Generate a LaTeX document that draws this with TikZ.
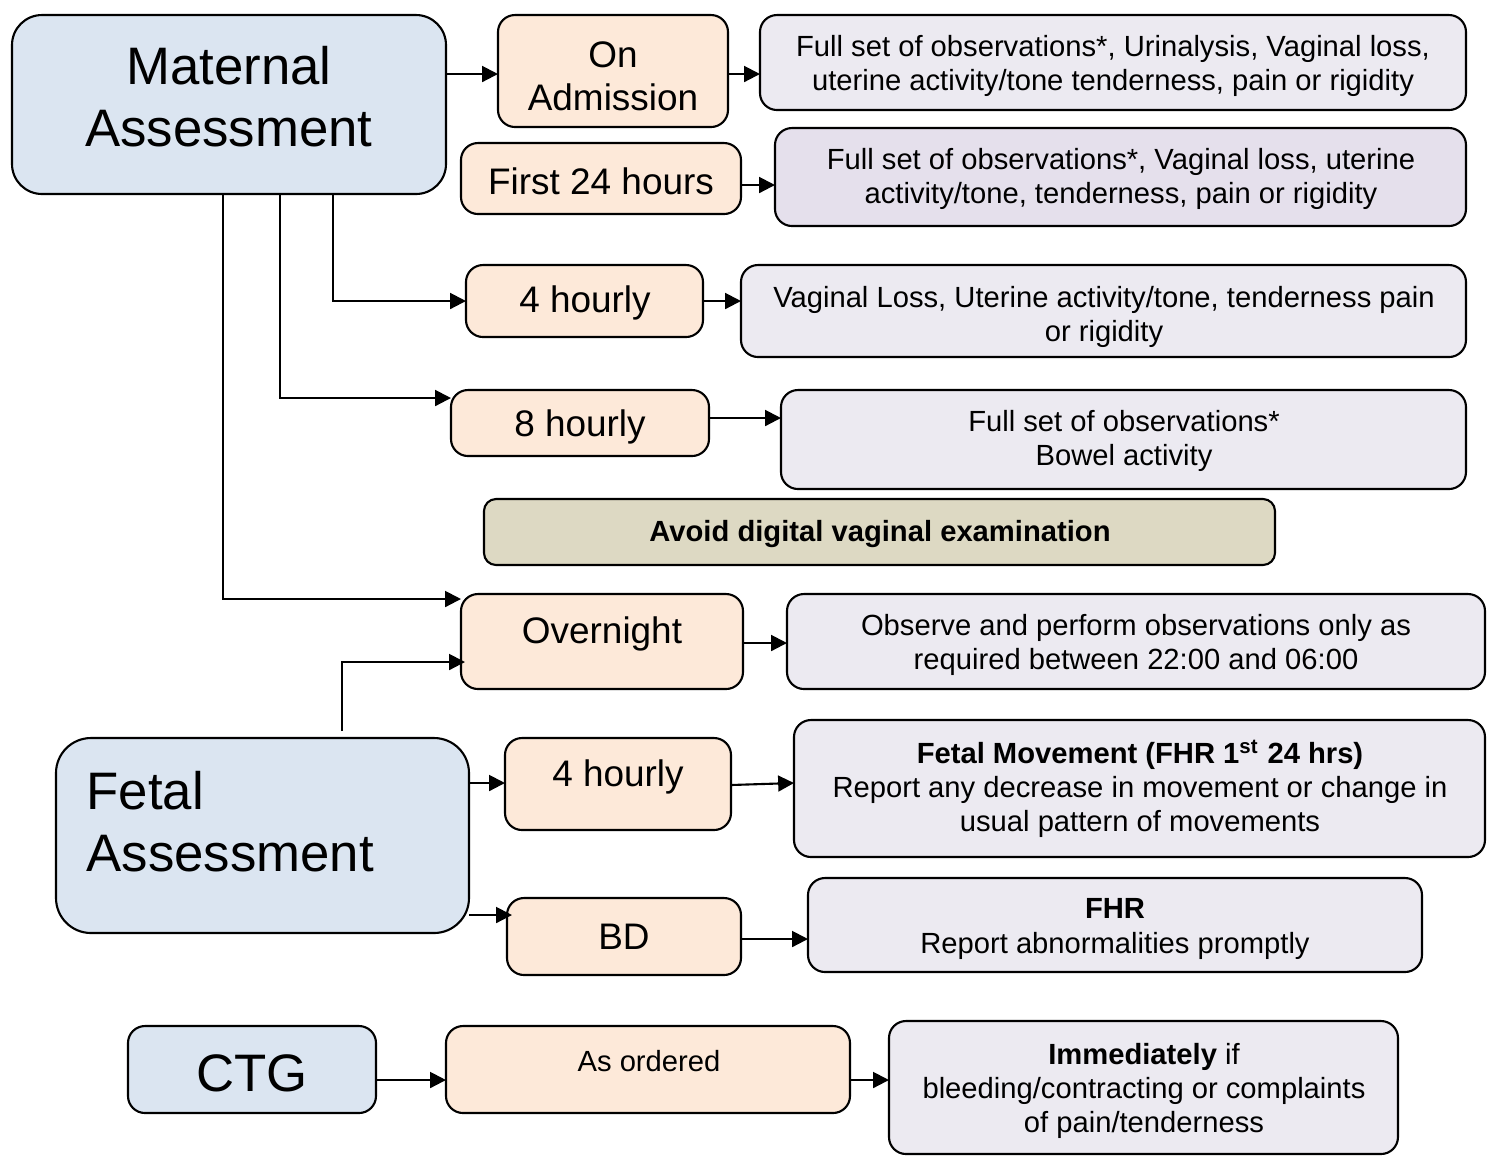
\documentclass[tikz,border=0pt]{standalone}
\usepackage{fontspec}
\setmainfont{Liberation Sans}
\usetikzlibrary{arrows.meta,fit,calc}
\definecolor{matblue}{HTML}{DBE5F1}
\definecolor{peach}{HTML}{FDE9D9}
\definecolor{lavA}{HTML}{ECEAF1}
\definecolor{lavB}{HTML}{E5E0EC}
\definecolor{olivebox}{HTML}{DDD9C3}
\tikzset{
  boxbase/.style={draw=black, line width=0.6pt, inner sep=0pt, outer sep=0pt},
  mainbox/.style={boxbase, fill=matblue, rounded corners=0.3cm},
  timebox/.style={boxbase, fill=peach, rounded corners=0.17cm},
  infobox/.style={boxbase, fill=lavA, rounded corners=0.17cm},
  infoboxB/.style={boxbase, fill=lavB, rounded corners=0.17cm},
  notebox/.style={boxbase, fill=olivebox, rounded corners=0.12cm},
  bigtxt/.style={inner sep=0pt, align=center, font=\fontsize{15}{17.6}\selectfont},
  midtxt/.style={inner sep=0pt, align=center, font=\fontsize{10.5}{12.2}\selectfont},
  smalltxt/.style={inner sep=0pt, align=center, font=\fontsize{8.3}{9.7}\selectfont},
  arr/.style={line width=0.6pt, -{Triangle[length=4.5pt, width=4.5pt]}},
}
\begin{document}
\begin{tikzpicture}[x=0.01cm, y=-0.01cm]
\useasboundingbox (0,0) rectangle (1493,1156);

% boxes
\node[mainbox, fit={(12,15) (446,194)}] (mat) {};
\node[timebox, fit={(498,15) (728,127)}] (adm) {};
\node[infobox, fit={(760,15) (1466,110)}] (b1) {};
\node[timebox, fit={(461,143) (741,214)}] (f24) {};
\node[infoboxB, fit={(775,128) (1466,226)}] (b2) {};
\node[timebox, fit={(466,265) (703,337)}] (h4) {};
\node[infobox, fit={(741,265) (1466,357)}] (b3) {};
\node[timebox, fit={(451,390) (709,456)}] (h8) {};
\node[infobox, fit={(781,390) (1466,489)}] (b4) {};
\node[notebox, fit={(484,499) (1275,565)}] (avoid) {};
\node[timebox, fit={(461,594) (743,689)}] (ovn) {};
\node[infobox, fit={(787,594) (1485,689)}] (b5) {};
\node[mainbox, rounded corners=0.35cm, fit={(56,738) (469,933)}] (fet) {};
\node[timebox, fit={(505,738) (731,830)}] (fh4) {};
\node[infobox, fit={(794,720) (1485,857)}] (b6) {};
\node[timebox, fit={(507,898) (741,975)}] (bd) {};
\node[infobox, fit={(808,878) (1422,972)}] (b7) {};
\node[mainbox, rounded corners=0.17cm, fit={(128,1026) (376,1113)}] (ctg) {};
\node[timebox, fit={(446,1026) (850,1113)}] (aso) {};
\node[infobox, fit={(889,1021) (1398,1154)}] (b8) {};

% texts
\node[bigtxt] (matT) at (229,97) {Maternal\\Assessment};
\node[midtxt] (admT) at (613,76) {On\\Admission};
\node[smalltxt] (b1T) at (1113,66) {Full set of observations*, Urinalysis, Vaginal loss,\\uterine activity/tone tenderness, pain or rigidity};
\node[midtxt] (f24T) at (601,181) {First 24 hours};
\node[smalltxt] (b2T) at (1121,179) {Full set of observations*, Vaginal loss, uterine\\activity/tone, tenderness, pain or rigidity};
\node[midtxt] (h4T) at (585,303) {4 hourly};
\node[smalltxt] (b3T) at (1104,317) {Vaginal Loss, Uterine activity/tone, tenderness pain\\or rigidity};
\node[midtxt] (h8T) at (580,427) {8 hourly};
\node[smalltxt] (b4T) at (1124,441) {Full set of observations*\\Bowel activity};
\node[smalltxt, font=\fontsize{8.3}{9.7}\selectfont\bfseries] (avT) at (880,534) {Avoid digital vaginal examination};
\node[midtxt] (ovnT) at (602,634) {Overnight};
\node[smalltxt] (b5T) at (1136,645) {Observe and perform observations only as\\required between 22:00 and 06:00};
\node[bigtxt, anchor=west, align=left] (fetT) at (86,822) {Fetal\\Assessment};
\node[midtxt] (fh4T) at (618,777) {4 hourly};
\node[smalltxt] (b6T) at (1140,789) {\textbf{Fetal Movement (FHR 1\textsuperscript{st} 24 hrs)}\\Report any decrease in movement or change in\\usual pattern of movements};
\node[midtxt] (bdT) at (624,937) {BD};
\node[smalltxt] (b7T) at (1115,929) {\textbf{FHR}\\Report abnormalities promptly};
\node[bigtxt] (ctgT) at (252,1073) {CTG};
\node[smalltxt] (asoT) at (649,1061) {As ordered};
\node[smalltxt] (b8T) at (1144,1091) {\textbf{Immediately} if\\bleeding/contracting or complaints\\of pain/tenderness};

% connectors
\coordinate (admIn) at ($(adm.north west)+(0,59)$);
\draw[arr] (admIn -| mat.east) -- (admIn);
\coordinate (b1In) at ($(b1.north west)+(0,59)$);
\draw[arr] (b1In -| adm.east) -- (b1In);
\coordinate (b2In) at ($(b2.north west)+(0,57)$);
\draw[arr] (b2In -| f24.east) -- (b2In);
\draw[arr] ($(mat.south west)+(321,0)$) |- (h4.west);
\draw[arr] (h4.east) -- (h4.east -| b3.west);
\draw[arr] ($(mat.south west)+(268,0)$) |- ($(h8.north west)+(0,8)$);
\coordinate (b4In) at ($(b4.north west)+(0,28)$);
\draw[arr] (b4In -| h8.east) -- (b4In);
\draw[arr] ($(mat.south west)+(211,0)$) |- ($(ovn.north west)+(0,5)$);
\coordinate (b5In) at ($(b5.north west)+(0,49)$);
\draw[arr] (b5In -| ovn.east) -- (b5In);
\draw[arr] ($(fet.north west)+(286,-7)$) |- ($(ovn.north west)+(4,68)$);
\coordinate (fh4In) at ($(fh4.north west)+(0,45)$);
\draw[arr] (fh4In -| fet.east) -- (fh4In);
\coordinate (b6In) at ($(b6.north west)+(0,63)$);
\draw[arr] ($(fh4.north east)+(0,47)$) -- (b6In);
\coordinate (bdIn) at ($(bd.north west)+(5,17)$);
\draw[arr] (bdIn -| fet.east) -- (bdIn);
\coordinate (b7In) at ($(b7.north west)+(0,61)$);
\draw[arr] (b7In -| bd.east) -- (b7In);
\coordinate (asoIn) at ($(aso.north west)+(0,54)$);
\draw[arr] (asoIn -| ctg.east) -- (asoIn);
\coordinate (b8In) at ($(b8.north west)+(0,59)$);
\draw[arr] (b8In -| aso.east) -- (b8In);
\end{tikzpicture}
\end{document}
